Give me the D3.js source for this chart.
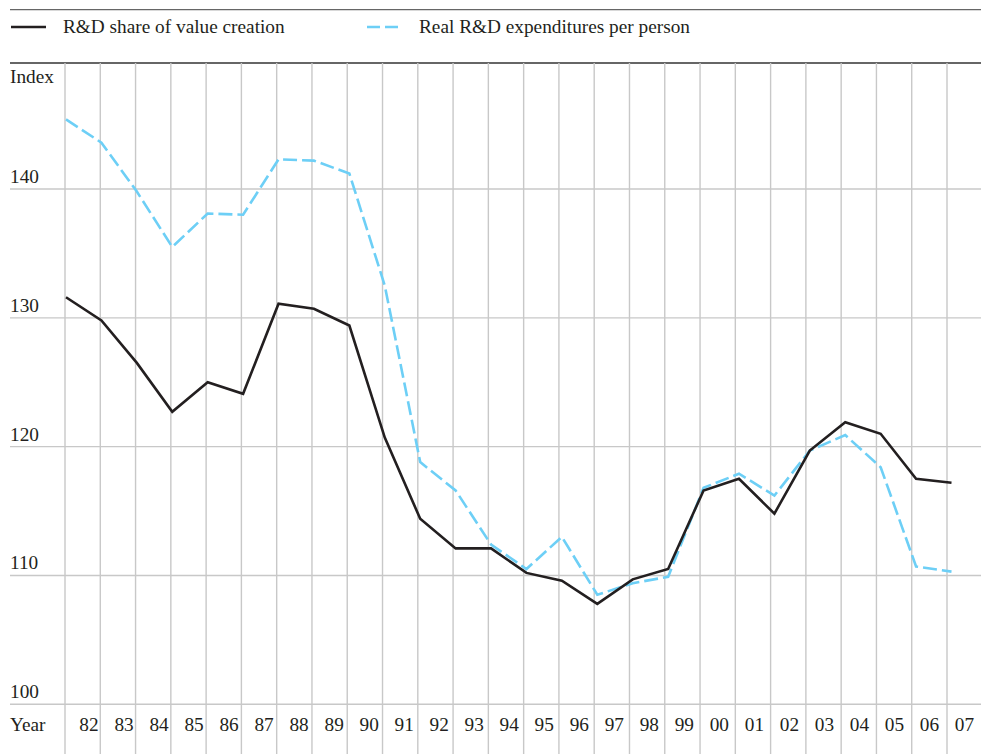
<!DOCTYPE html>
<html>
<head>
<meta charset="utf-8">
<script src="https://cdn.jsdelivr.net/npm/d3@7/dist/d3.min.js"></script>
<style>
  body { margin: 0; background: #fff; }
  svg text { font-family: "Liberation Serif", "Times New Roman", serif; font-size: 19.3px; fill: #231f20; }
</style>
</head>
<body>
<svg id="chart"></svg>
<script>
const W = 981, H = 754;

const years = ["82","83","84","85","86","87","88","89","90","91","92","93","94",
               "95","96","97","98","99","00","01","02","03","04","05","06","07"];
const rdShare = [131.6, 129.8, 126.5, 122.7, 125.0, 124.1, 131.1, 130.7, 129.4, 120.7,
                 114.4, 112.1, 112.1, 110.2, 109.6, 107.8, 109.7, 110.5, 116.6, 117.5,
                 114.8, 119.7, 121.9, 121.0, 117.5, 117.2];
const rdPerPerson = [145.4, 143.6, 139.8, 135.5, 138.1, 138.0, 142.3, 142.2, 141.2, 132.5,
                     118.8, 116.6, 112.4, 110.5, 113.0, 108.5, 109.4, 109.9, 116.8, 117.9,
                     116.2, 119.7, 120.9, 118.4, 110.7, 110.3];
const yTicks = [100, 110, 120, 130, 140];

const INK = "#231f20";
const BLUE = "#6dcff6";
const GRID = "#c8c8c8";

const svg = d3.select("#chart").attr("width", W).attr("height", H);

const idx = d3.range(years.length);
const xGrid = d3.scaleLinear().domain([0, years.length - 1]).range([65, 947]);
const x = d3.scaleLinear().domain([0, years.length - 1]).range([66, 951.5]);
const xLabel = d3.scaleLinear().domain([0, years.length - 1]).range([89, 964.5]);
const y = d3.scaleLinear().domain([100, 140]).range([704.3, 189]);

// rules at top
svg.append("line").attr("x1", 10).attr("x2", W).attr("y1", 9.7).attr("y2", 9.7)
  .attr("stroke", "#666").attr("stroke-width", 1.3);
svg.append("line").attr("x1", 10).attr("x2", W).attr("y1", 63).attr("y2", 63)
  .attr("stroke", "#333").attr("stroke-width", 1.3);

// legend
svg.append("line").attr("x1", 11).attr("x2", 46).attr("y1", 27).attr("y2", 27)
  .attr("stroke", INK).attr("stroke-width", 2.6);
svg.append("text").attr("x", 63).attr("y", 33).text("R&D share of value creation");
svg.append("line").attr("x1", 367).attr("x2", 402).attr("y1", 27).attr("y2", 27)
  .attr("stroke", BLUE).attr("stroke-width", 2.6).attr("stroke-dasharray", "13,5");
svg.append("text").attr("x", 419).attr("y", 33).text("Real R&D expenditures per person");

// grid
svg.append("g").selectAll("line").data(idx).join("line")
  .attr("x1", d => xGrid(d)).attr("x2", d => xGrid(d))
  .attr("y1", 63).attr("y2", H)
  .attr("stroke", GRID).attr("stroke-width", 1.4);

svg.append("g").selectAll("line").data(yTicks).join("line")
  .attr("x1", 10).attr("x2", W)
  .attr("y1", d => y(d)).attr("y2", d => y(d))
  .attr("stroke", GRID).attr("stroke-width", 1.4);

svg.append("g").selectAll("text").data(yTicks).join("text")
  .attr("x", 10).attr("y", d => y(d) - 6)
  .text(d => d);

svg.append("text").attr("x", 10).attr("y", 83).text("Index");
svg.append("text").attr("x", 10).attr("y", 731).text("Year");

svg.append("g").selectAll("text").data(years).join("text")
  .attr("x", (d, i) => xLabel(i)).attr("y", 731)
  .attr("text-anchor", "middle")
  .text(d => d);

// lines
const line = d3.line().x((d, i) => x(i)).y(d => y(d));

svg.append("path").datum(rdPerPerson)
  .attr("d", line).attr("fill", "none")
  .attr("stroke", BLUE).attr("stroke-width", 2.6)
  .attr("stroke-dasharray", "14,5");

svg.append("path").datum(rdShare)
  .attr("d", line).attr("fill", "none")
  .attr("stroke", INK).attr("stroke-width", 2.6)
  .attr("stroke-linejoin", "miter");
</script>
</body>
</html>
